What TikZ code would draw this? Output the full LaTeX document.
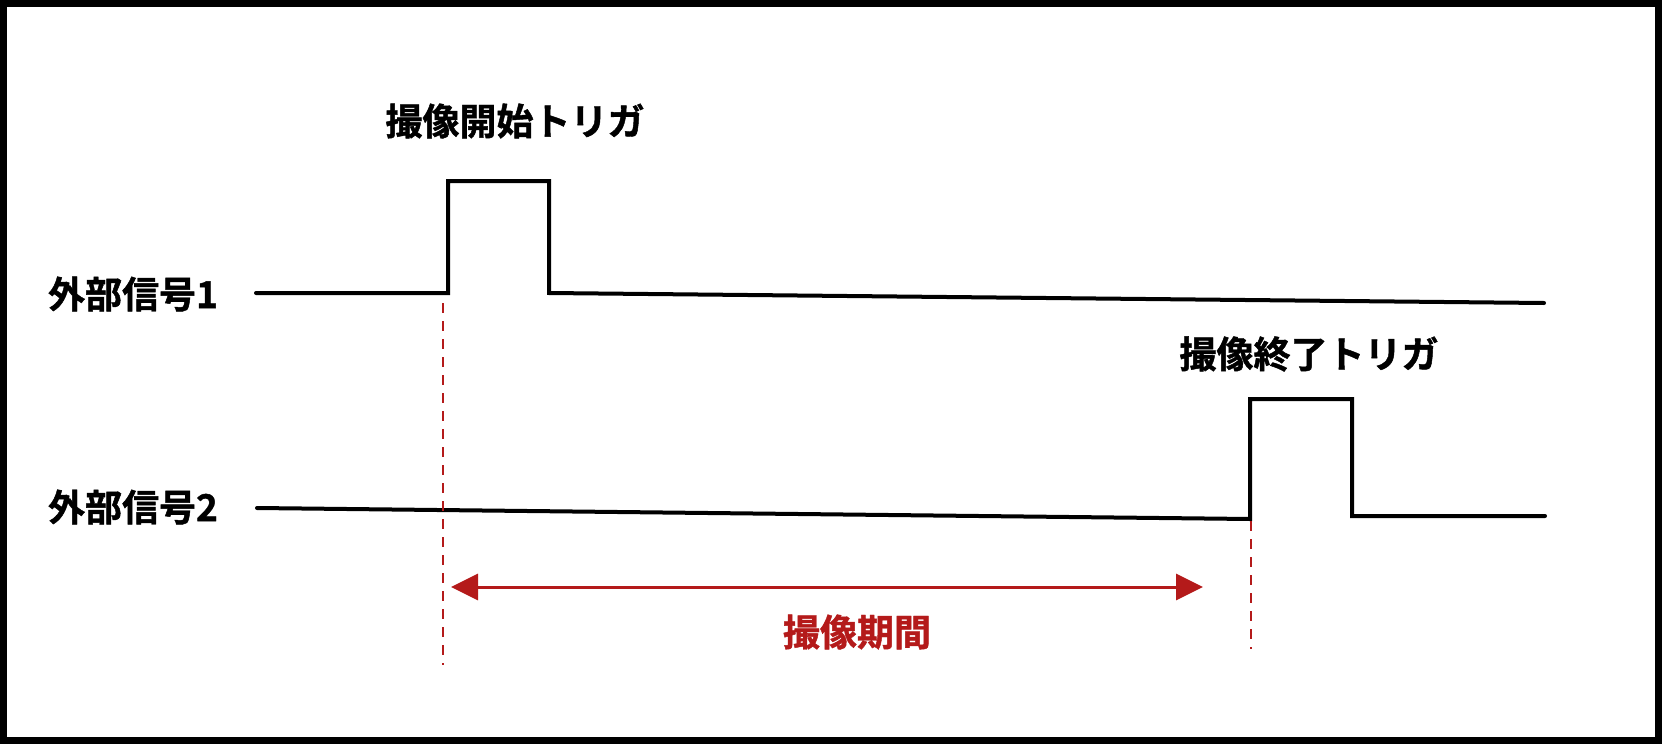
\documentclass[tikz,border=0pt]{standalone}
\usepackage{fontspec}
\newfontfamily\jp{Noto Sans CJK JP Bold}[FakeBold=1.2]
\usetikzlibrary{arrows.meta}
\definecolor{myred}{HTML}{B41A1A}
\tikzset{
  lbl/.style={font=\jp\fontsize{37}{44}\selectfont, inner sep=0pt, text=black},
  redlbl/.style={lbl, text=myred},
  sig/.style={line width=4pt, line cap=round, line join=miter, draw=black},
  guide/.style={myred, line width=2.5pt, dash pattern=on 10pt off 8pt},
  span/.style={myred, line width=3pt, {Triangle[length=27pt,width=26pt]}-{Triangle[length=27pt,width=26pt]}}
}
\begin{document}
\begin{tikzpicture}[x=1pt,y=-1pt]
\useasboundingbox (0,0) rectangle (1662,744);
\draw[line width=7pt] (3.5,3.5) rectangle (1658.5,740.5);
% labels
\node[lbl] (s1) at (133,294) {外部信号1};
\node[lbl] (s2) at (133,507) {外部信号2};
\node[lbl] (t1) at (515,121) {撮像開始トリガ};
\node[lbl] (t2) at (1309,354) {撮像終了トリガ};
\node[redlbl] (per) at (857,632) {撮像期間};
% signal 1
\coordinate (a0) at (256,293);
\coordinate (a1) at (448,293);
\coordinate (a2) at (448,181);
\coordinate (a3) at (549,181);
\coordinate (a4) at (549,293);
\coordinate (a5) at (1544,303);
\draw[sig] (a0) -- (a1) -- (a2) -- (a3) -- (a4) -- (a5);
% signal 2
\coordinate (b0) at (257,508);
\coordinate (b1) at (1250,519);
\coordinate (b2) at (1250,399);
\coordinate (b3) at (1352,399);
\coordinate (b4) at (1352,516);
\coordinate (b5) at (1545,516);
\draw[sig] (b0) -- (b1) -- (b2) -- (b3) -- (b4) -- (b5);
% guides
\coordinate (g1a) at (443,303);
\coordinate (g1b) at (443,665);
\coordinate (g2a) at (1251,521);
\coordinate (g2b) at (1251,649);
\draw[guide] (g1a) -- (g1b);
\draw[guide] (g2a) -- (g2b);
% period arrow
\coordinate (p1) at (451,587);
\coordinate (p2) at (1203,587);
\draw[span] (p1) -- (p2);
\end{tikzpicture}
\end{document}
